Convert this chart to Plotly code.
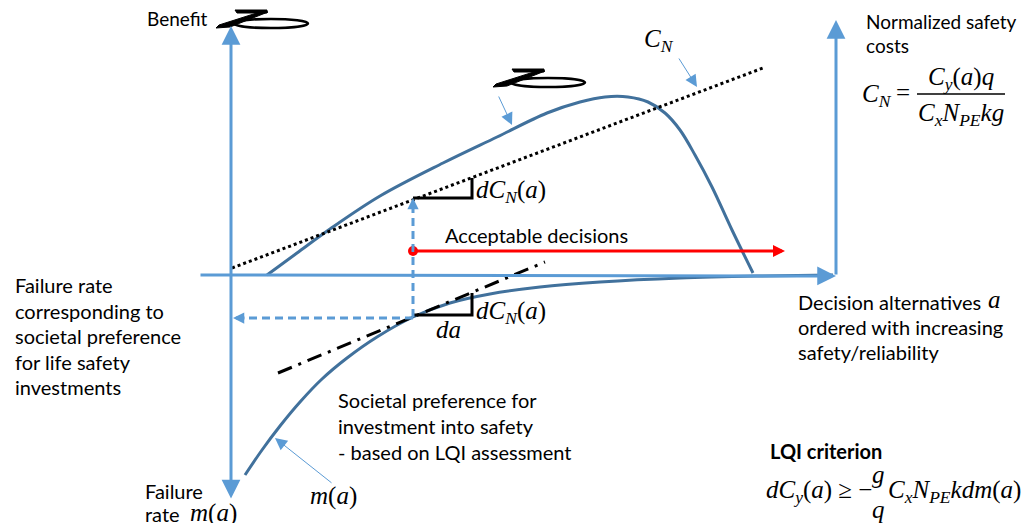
import plotly.graph_objects as go

W, H = 1031, 523
OFF = 8  # page body margin offset
AX_BLUE = "#5B9BD5"
CURVE_BLUE = "#41719C"
SANS = "Lato"
SERIF = "Liberation Serif"
SANS_SIZE = 20
MATH_SIZE = 25

# ---- diagram data (diagram coordinates: x = decision alternative, y = value, drawn downward) ----
benefit_a = [267, 297, 330, 380, 443, 497, 547, 580, 605, 628, 648, 665, 680, 695, 712, 732, 753]
benefit_v = [275, 253, 229, 196, 163, 137, 113, 102, 97, 97, 102, 113, 130, 155, 187, 230, 273]

mrate_a = [245, 262, 280, 300, 322, 347, 377, 413, 450, 490, 540, 600, 680, 760, 833]
mrate_v = [475, 450, 426, 402, 379, 358, 337, 317, 303, 294, 287, 282, 278, 276, 275]

cn_a = [232, 763]
cn_v = [268, 68]

tangent_a = [278, 545]
tangent_v = [373, 262]

step_top_a = [413, 472, 472]
step_top_v = [198, 198, 178]
step_bot_a = [413, 472, 472]
step_bot_v = [315, 315, 293]

accept_a = [413, 785]
accept_v = [251, 251]

# b glyph pieces (relative) and its two anchors
glyph_bar_dx = [19, 51, 51, 21]
glyph_bar_dy = [-17, -17, -14, -14]
glyph_diag_dx = [47, 52, 14, 0, 3]
glyph_diag_dy = [-16, -15, 0, 1, -2]
glyph_anchor_x = [216, 493]
glyph_anchor_y = [27, 86]

fig = go.Figure()

# curves
fig.add_trace(go.Scatter(x=benefit_a, y=benefit_v, mode="lines",
                         line=dict(color=CURVE_BLUE, width=3, shape="spline", smoothing=1.0)))
fig.add_trace(go.Scatter(x=mrate_a, y=mrate_v, mode="lines",
                         line=dict(color=CURVE_BLUE, width=3, shape="spline", smoothing=1.0)))
fig.add_trace(go.Scatter(x=cn_a, y=cn_v, mode="lines",
                         line=dict(color="black", width=3, dash="dot")))
fig.add_trace(go.Scatter(x=tangent_a, y=tangent_v, mode="lines",
                         line=dict(color="black", width=3, dash="15px,7px,3px,7px")))
fig.add_trace(go.Scatter(x=step_top_a, y=step_top_v, mode="lines",
                         line=dict(color="black", width=3)))
fig.add_trace(go.Scatter(x=step_bot_a, y=step_bot_v, mode="lines",
                         line=dict(color="black", width=3)))
fig.add_trace(go.Scatter(x=[accept_a[0]], y=[accept_v[0]], mode="markers",
                         marker=dict(color="#FF0000", size=10)))

shapes = []
# dashed projection lines
shapes.append(dict(type="line", x0=413, y0=317, x1=413, y1=204, xref="x", yref="y",
                   line=dict(color=AX_BLUE, width=3, dash="8px,5px")))
shapes.append(dict(type="line", x0=413, y0=318, x1=240, y1=318, xref="x", yref="y",
                   line=dict(color=AX_BLUE, width=3, dash="8px,5px")))
# fraction bar of C_N formula
shapes.append(dict(type="line", x0=917, y0=94, x1=1005, y1=94, xref="x", yref="y",
                   line=dict(color="black", width=1.5)))


def poly(dxs, dys, gx, gy):
    pts = [(gx + dx, gy + dy) for dx, dy in zip(dxs, dys)]
    return "M" + " L".join(f"{px},{py}" for px, py in pts) + " Z"


# b glyphs
for gx, gy in zip(glyph_anchor_x, glyph_anchor_y):
    for dxs, dys in ((glyph_bar_dx, glyph_bar_dy), (glyph_diag_dx, glyph_diag_dy)):
        shapes.append(dict(type="path", path=poly(dxs, dys, gx, gy), xref="x", yref="y",
                           fillcolor="black", line=dict(color="black", width=1)))
    shapes.append(dict(type="circle", x0=gx + 18, x1=gx + 92, y0=gy - 8, y1=gy + 1,
                       xref="x", yref="y", line=dict(color="black", width=2.5)))
fig.update_layout(shapes=shapes)

ann = []


def arrow(x, y, ax, ay, color, width, size, head=2, **kw):
    d = dict(x=x, y=y, ax=ax, ay=ay, xref="x", yref="y", axref="x", ayref="y",
             text="", showarrow=True, arrowhead=head, arrowsize=size,
             arrowwidth=width, arrowcolor=color, standoff=0, startstandoff=0)
    d.update(kw)
    ann.append(d)


# axes
arrow(231, 26, 231, 500, AX_BLUE, 3, 1.25, arrowside="end+start", startarrowhead=2,
      startarrowsize=1.25)
arrow(836, 276, 199, 275, AX_BLUE, 3, 1.25)
arrow(836, 20, 836, 276, AX_BLUE, 3, 1.25)
# red acceptable decisions arrow
arrow(accept_a[1], accept_v[1], accept_a[0], accept_v[0], "#FF0000", 3, 0.8)
# dashed arrow heads
arrow(413, 198, 413, 210, AX_BLUE, 3, 0.75)
arrow(233, 318, 246, 318, AX_BLUE, 3, 0.75)
# thin pointer arrows
arrow(512, 125, 498, 95, AX_BLUE, 1, 2.4)
arrow(697, 87, 678, 57, AX_BLUE, 1, 2.4)
arrow(275, 438, 333, 484, AX_BLUE, 1, 2.4)


def txt(t, x, y, size=SANS_SIZE, font=SANS, xanchor="left", color="black", yanchor="middle"):
    ann.append(dict(text=t, x=x, y=y, xref="x", yref="y", showarrow=False,
                    xanchor=xanchor, yanchor=yanchor,
                    font=dict(family=font, size=size, color=color)))


# sans text
txt("Benefit", 145, 18, size=19)
txt("Normalized safety", 864, 21, size=19)
txt("costs", 864, 45, size=19)
for i, line in enumerate(["Failure rate", "corresponding to", "societal preference",
                          "for life safety", "investments"]):
    txt(line, 13, 285 + i * 25.5)
txt("Decision alternatives", 796, 302)
txt("<i>a</i>", 986, 299, size=MATH_SIZE, font=SERIF)
txt("ordered with increasing", 796, 327)
txt("safety/reliability", 796, 352)
txt("Acceptable decisions", 443, 235)
txt("Societal preference for", 336, 400)
txt("investment into safety", 336, 426)
txt("- based on LQI assessment", 336, 452)
txt("Failure", 143, 491)
txt("rate", 143, 514)
txt("<i>m</i>(<i>a</i>)", 188, 513, size=MATH_SIZE, font=SERIF)
txt("<b>LQI criterion</b>", 768, 451)

# math labels
txt("<i>C</i><sub><i>N</i></sub>", 642, 40, size=MATH_SIZE, font=SERIF)
txt("<i>dC</i><sub><i>N</i></sub>(<i>a</i>)", 474, 191, size=MATH_SIZE, font=SERIF)
txt("<i>dC</i><sub><i>N</i></sub>(<i>a</i>)", 474, 312, size=MATH_SIZE, font=SERIF)
txt("<i>da</i>", 434, 329, size=MATH_SIZE, font=SERIF)
txt("<i>m</i>(<i>a</i>)", 308, 496, size=MATH_SIZE, font=SERIF)
txt("<i>C</i><sub><i>N</i></sub>", 860, 95, size=MATH_SIZE, font=SERIF)
txt("=", 903, 92, size=MATH_SIZE, font=SERIF, xanchor="center")
txt("<i>C</i><sub><i>y</i></sub>(<i>a</i>)<i>q</i>", 961, 78, size=MATH_SIZE, font=SERIF,
    xanchor="center")
txt("<i>C</i><sub><i>x</i></sub><i>N</i><sub><i>PE</i></sub><i>kg</i>", 961, 114,
    size=MATH_SIZE, font=SERIF, xanchor="center")
txt("<i>dC</i><sub><i>y</i></sub>(<i>a</i>) ≥ −", 764, 491, size=MATH_SIZE, font=SERIF)
txt("<i>g</i>", 878, 474, size=MATH_SIZE, font=SERIF, xanchor="center")
txt("<i>q</i>", 878, 509, size=MATH_SIZE, font=SERIF, xanchor="center")
txt("<i>C</i><sub><i>x</i></sub><i>N</i><sub><i>PE</i></sub><i>kdm</i>(<i>a</i>)", 886, 491,
    size=MATH_SIZE, font=SERIF)

fig.update_layout(
    annotations=ann,
    width=W, height=H - OFF, autosize=False,
    margin=dict(l=0, r=0, t=0, b=0),
    paper_bgcolor="white", plot_bgcolor="white",
    showlegend=False,
    xaxis=dict(range=[OFF, W + OFF], visible=False, fixedrange=True),
    yaxis=dict(range=[H, OFF], visible=False, fixedrange=True),
)

fig.write_html("out.html", config={"displayModeBar": False})
